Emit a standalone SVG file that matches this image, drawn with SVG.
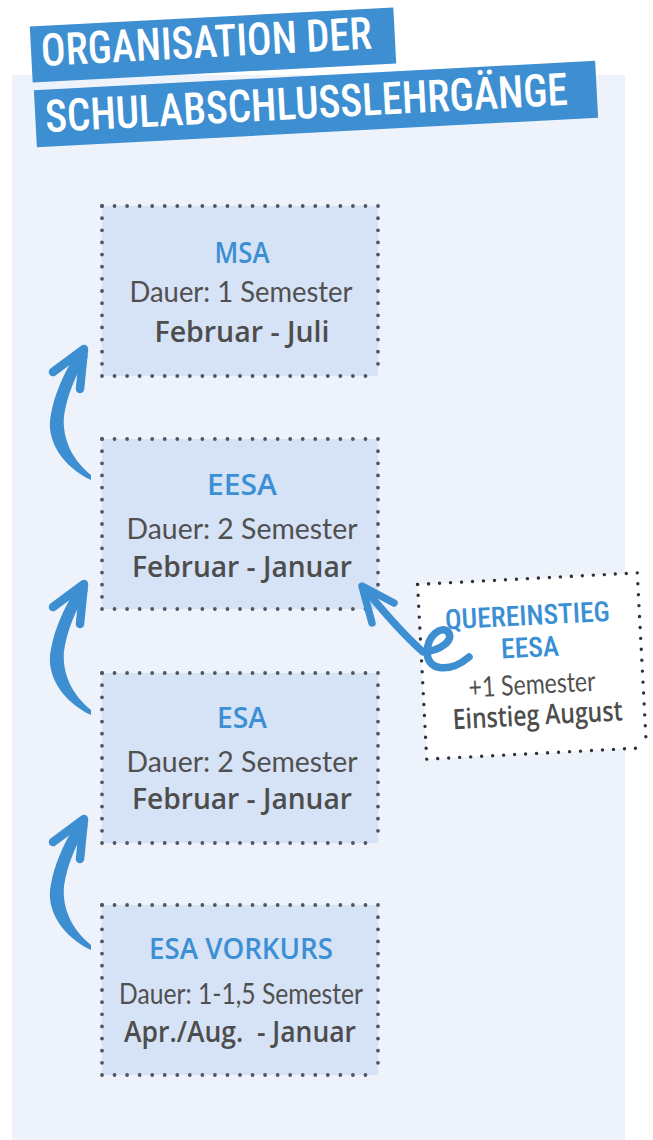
<svg xmlns="http://www.w3.org/2000/svg" xmlns:xlink="http://www.w3.org/1999/xlink" width="653" height="1140" viewBox="0 0 653 1140">
<style>
.panel{fill:#eef3fb}
.banner{fill:#3e8fd1}
.ttl{font-family:"Roboto Condensed","Liberation Sans Narrow","Roboto",sans-serif;font-weight:500;font-size:45px;fill:#ffffff}
.box{fill:#d6e2f5}
.dot{stroke:#4f5660;stroke-width:3.8;stroke-linecap:round;stroke-dasharray:0 1;fill:none}
.dotq{stroke:#2f3338;stroke-width:3.4;stroke-linecap:round;stroke-dasharray:0 1;fill:none}
.h{font-family:"Open Sans","Lato",sans-serif;font-weight:600;font-size:28px;fill:#3b8fd4;text-anchor:middle}
.r{font-family:"Lato","Open Sans",sans-serif;font-weight:400;font-size:28px;fill:#505050;text-anchor:middle}
.b{font-family:"Open Sans","Lato",sans-serif;font-weight:600;font-size:28px;fill:#4d4d4d;text-anchor:middle}
.hc{font-family:"Roboto Condensed","Liberation Sans Narrow","Roboto",sans-serif;font-weight:500;font-size:28px;fill:#3b8fd4;text-anchor:middle}
.arrowFill{fill:#3e8fd1}
.arrowStroke{fill:none;stroke:#3e8fd1;stroke-linecap:round;stroke-linejoin:round}
</style>
<defs>
<g id="dots">
<line class="dot" x1="0" y1="0" x2="276" y2="0" pathLength="22"/>
<line class="dot" x1="0" y1="170" x2="276" y2="170" pathLength="22"/>
<line class="dot" x1="0" y1="0" x2="0" y2="170" pathLength="14"/>
<line class="dot" x1="276" y1="0" x2="276" y2="170" pathLength="14"/>
</g>
<g id="upArrow">
<path class="arrowFill" d="M 91 480 C 63 467, 45 440, 51 414 C 54 397, 62 375, 78 351 L 88 356 C 75 375, 67 396, 64 416 C 62 438, 72 460, 91 475 Z"/>
<polyline class="arrowStroke" stroke-width="8.5" points="53,372 84,349 80,389"/>
</g>
</defs>

<rect class="panel" x="12" y="75" width="613" height="1065"/>

<g id="title">
<g transform="rotate(-3 213 45)">
<rect class="banner" x="31" y="17" width="364" height="56"/>
<text class="ttl" x="41" y="57" textLength="331" lengthAdjust="spacingAndGlyphs">ORGANISATION DER</text>
</g>
<g transform="rotate(-3 316 104)">
<rect class="banner" x="35" y="75.5" width="562" height="57"/>
<text class="ttl" x="45" y="118" textLength="523" lengthAdjust="spacingAndGlyphs">SCHULABSCHLUSSLEHRGÄNGE</text>
</g>
</g>

<g id="node-msa">
<rect class="box" x="102" y="206" width="276" height="170"/>
<use xlink:href="#dots" href="#dots" x="102" y="206"/>
<text class="h" x="242" y="263" textLength="55" lengthAdjust="spacingAndGlyphs">MSA</text>
<text class="r" x="241" y="302" textLength="223" lengthAdjust="spacingAndGlyphs">Dauer: 1 Semester</text>
<text class="b" x="242" y="342" textLength="175" lengthAdjust="spacingAndGlyphs">Februar - Juli</text>
</g>

<g id="node-eesa">
<rect class="box" x="102" y="439" width="276" height="170"/>
<use xlink:href="#dots" href="#dots" x="102" y="439"/>
<text class="h" x="242" y="495" textLength="70" lengthAdjust="spacingAndGlyphs">EESA</text>
<text class="r" x="242" y="539" textLength="231" lengthAdjust="spacingAndGlyphs">Dauer: 2 Semester</text>
<text class="b" x="242" y="577" textLength="220" lengthAdjust="spacingAndGlyphs">Februar - Januar</text>
</g>

<g id="node-esa">
<rect class="box" x="102" y="673" width="276" height="170"/>
<use xlink:href="#dots" href="#dots" x="102" y="673"/>
<text class="h" x="242" y="728" textLength="50" lengthAdjust="spacingAndGlyphs">ESA</text>
<text class="r" x="242" y="772" textLength="231" lengthAdjust="spacingAndGlyphs">Dauer: 2 Semester</text>
<text class="b" x="242" y="809" textLength="220" lengthAdjust="spacingAndGlyphs">Februar - Januar</text>
</g>

<g id="node-esa-vorkurs">
<rect class="box" x="102" y="905" width="276" height="170"/>
<use xlink:href="#dots" href="#dots" x="102" y="905"/>
<text class="h" x="241" y="959" textLength="184" lengthAdjust="spacingAndGlyphs">ESA VORKURS</text>
<text class="r" x="241" y="1004" textLength="244" lengthAdjust="spacingAndGlyphs">Dauer: 1-1,5 Semester</text>
<text class="b" x="240" y="1042" textLength="232" lengthAdjust="spacingAndGlyphs" style="white-space:pre">Apr./Aug.  - Januar</text>
</g>

<g id="node-quereinstieg" transform="rotate(-3 532 666)">
<rect x="422" y="578.5" width="220" height="175" fill="#ffffff"/>
<line class="dotq" x1="422" y1="578.5" x2="642" y2="578.5" pathLength="20"/>
<line class="dotq" x1="422" y1="753.5" x2="642" y2="753.5" pathLength="20"/>
<line class="dotq" x1="422" y1="578.5" x2="422" y2="753.5" pathLength="16"/>
<line class="dotq" x1="642" y1="578.5" x2="642" y2="753.5" pathLength="16"/>
<text class="hc" x="530" y="625" textLength="165" lengthAdjust="spacingAndGlyphs">QUEREINSTIEG</text>
<text class="hc" x="531" y="657" textLength="58" lengthAdjust="spacingAndGlyphs">EESA</text>
<text class="r" x="531" y="694" font-size="25" textLength="127" lengthAdjust="spacingAndGlyphs">+1 Semester</text>
<text class="b" x="535" y="725" font-size="26" textLength="170" lengthAdjust="spacingAndGlyphs">Einstieg August</text>
</g>

<g id="connectors">
<use xlink:href="#upArrow" href="#upArrow"/>
<use xlink:href="#upArrow" href="#upArrow" y="235"/>
<use xlink:href="#upArrow" href="#upArrow" y="470"/>
<path class="arrowStroke" stroke-width="7.5" d="M 364 588 C 378 605, 400 632, 423 652 C 440 651, 455 640, 448 632 C 441 625, 427 636, 427 653 C 428 671, 450 673, 469 657"/>
<polyline class="arrowStroke" stroke-width="7.5" points="372,623 362,586 394,603"/>
</g>
</svg>
